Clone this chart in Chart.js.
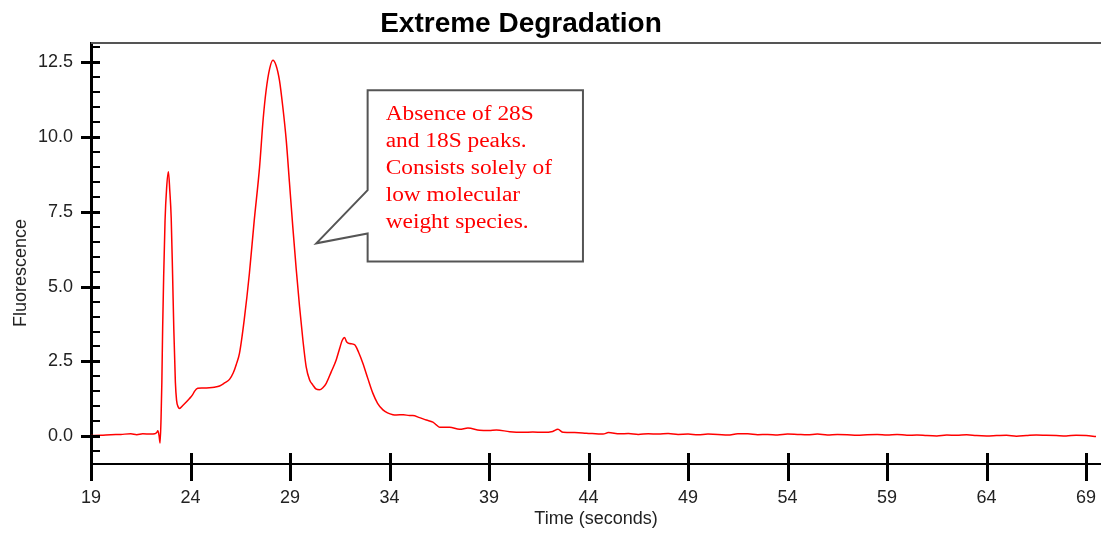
<!DOCTYPE html>
<html>
<head>
<meta charset="utf-8">
<title>Extreme Degradation</title>
<script src="https://cdn.jsdelivr.net/npm/chart.js@4.4.1/dist/chart.umd.min.js"></script>
<style>
body { margin: 0; background: #fff; }
#wrap { width: 1101px; height: 533px; }
</style>
</head>
<body>
<div id="wrap"><canvas id="trace" width="1101" height="533"></canvas></div>
<script>
// electropherogram trace
const timeSec = [
    19.0, 19.5, 20.0, 20.5, 21.0, 21.3, 21.6, 22.0, 22.2, 22.3, 22.36, 22.42, 22.47,
    22.52, 22.56, 22.6, 22.65, 22.72, 22.8, 22.89, 22.96, 23.03, 23.1, 23.16, 23.24,
    23.3, 23.38, 23.45, 23.6, 23.8, 23.95, 24.1, 24.2, 24.36, 24.6, 24.95, 25.2, 25.46,
    25.71, 25.96, 26.15, 26.3, 26.46, 26.7, 26.96, 27.2, 27.47, 27.65, 27.8, 27.98,
    28.14, 28.3, 28.47, 28.64, 28.81, 28.97, 29.14, 29.31, 29.48, 29.65, 29.81, 29.98,
    30.15, 30.3, 30.48, 30.65, 30.82, 31.07, 31.32, 31.5, 31.62, 31.74, 31.85, 31.99,
    32.24, 32.45, 32.66, 32.9, 33.16, 33.4, 33.67, 33.9, 34.17, 34.34, 34.7, 35.0,
    35.17, 35.51, 35.85, 36.18, 36.35, 36.52, 37.02, 37.52, 37.94, 38.53, 39.0, 39.37,
    40.04, 40.7, 41.2, 41.71, 42.2, 42.46, 42.72, 43.3, 43.89, 44.73, 45.0, 45.57,
    46.0, 46.5, 47.0, 47.5, 48.0, 48.5, 49.0, 49.5, 50.0, 50.5, 51.0, 51.5, 52.0, 52.5,
    53.0, 53.5, 54.0, 54.5, 55.0, 55.5, 56.0, 56.5, 57.0, 57.5, 58.0, 58.5, 59.0, 59.5,
    60.0, 60.5, 61.0, 61.5, 62.0, 62.5, 63.0, 63.5, 64.0, 64.5, 65.0, 65.5, 66.0, 66.5,
    67.0, 67.5, 68.0, 68.5, 69.0, 69.5
];
const fluorescence = [
    0.02, 0.03, 0.05, 0.06, 0.08, 0.05, 0.08, 0.07, 0.08, 0.12, 0.18, 0.02, -0.23,
    0.6, 1.8, 3.6, 5.3, 7.2, 8.3, 8.84, 8.2, 7.3, 5.4, 3.6, 1.8,
    1.2, 0.98, 0.93, 1.02, 1.15, 1.26, 1.38, 1.5, 1.6, 1.61, 1.62, 1.64, 1.68,
    1.78, 1.9, 2.12, 2.4, 2.77, 3.9, 5.45, 7.2, 9.0, 10.6, 11.57, 12.3,
    12.57, 12.4, 11.9, 11.0, 9.9, 8.5, 7.0, 5.6, 4.33, 3.2, 2.33, 1.89,
    1.71, 1.58, 1.55, 1.62, 1.77, 2.15, 2.55, 2.95, 3.2, 3.3, 3.15, 3.1,
    3.06, 2.8, 2.44, 1.95, 1.44, 1.1, 0.88, 0.78, 0.72, 0.71, 0.72, 0.69,
    0.69, 0.62, 0.54, 0.47, 0.38, 0.30, 0.30, 0.23, 0.27, 0.20, 0.19, 0.21,
    0.15, 0.13, 0.14, 0.13, 0.16, 0.23, 0.13, 0.12, 0.10, 0.07, 0.12, 0.08,
    0.09, 0.06, 0.08, 0.07, 0.09, 0.06, 0.07, 0.05, 0.07, 0.06, 0.04, 0.08, 0.08, 0.05,
    0.06, 0.04, 0.07, 0.06, 0.05, 0.07, 0.04, 0.06, 0.05, 0.03, 0.05, 0.06, 0.04, 0.06,
    0.03, 0.04, 0.02, 0.01, 0.04, 0.03, 0.05, 0.02, 0.01, 0.02, 0.03, 0.0, 0.02, 0.04,
    0.03, 0.02, 0.01, 0.03, 0.02, -0.01
];

const xTicks = [19, 24, 29, 34, 39, 44, 49, 54, 59, 64, 69];
const yTicks = [0, 2.5, 5, 7.5, 10, 12.5];
const yMinorTicks = [-0.5, 0.5, 1, 1.5, 2, 3, 3.5, 4, 4.5, 5.5, 6, 6.5, 7, 8, 8.5, 9, 9.5, 10.5, 11, 11.5, 12, 13];

const chartTitle = 'Extreme Degradation';
const xTitle = 'Time (seconds)';
const yTitle = 'Fluorescence';
const calloutLines = ['Absence of 28S', 'and 18S peaks.', 'Consists solely of', 'low molecular', 'weight species.'];

// callout placed in data units
const calloutBox = { x0: 32.9, x1: 43.72, yTop: 11.57, yBottom: 5.84 };
const calloutPointer = { x: 30.32, y: 6.45, yUpper: 8.23, yLower: 6.78 };

const sans = "'Liberation Sans', Arial, sans-serif";
const serif = "'Liberation Serif', 'Times New Roman', serif";

function createPoints() {
    let pts = [];
    for (let i = 0; i < timeSec.length; i++) {
        pts.push({ x: timeSec[i], y: fluorescence[i] });
    }
    return pts;
}

function line(ctx, x1, y1, x2, y2) {
    ctx.beginPath();
    ctx.moveTo(x1, y1);
    ctx.lineTo(x2, y2);
    ctx.stroke();
}

const frameAndTicks = {
    id: 'frameAndTicks',
    afterDraw(chart) {
        const ctx = chart.ctx;
        const area = chart.chartArea;
        const xs = chart.scales.x;
        const ys = chart.scales.y;
        ctx.save();
        // top frame line
        ctx.strokeStyle = '#555';
        ctx.lineWidth = 2;
        line(ctx, area.left, area.top, area.right, area.top);

        ctx.strokeStyle = '#000';
        ctx.lineWidth = 3;
        yTicks.forEach(v => {
            const py = Math.round(ys.getPixelForValue(v)) + 0.5;
            line(ctx, area.left - 10, py, area.left + 9, py);
        });
        ctx.lineWidth = 2;
        yMinorTicks.forEach(v => {
            const py = Math.round(ys.getPixelForValue(v));
            line(ctx, area.left, py, area.left + 9, py);
        });
        ctx.lineWidth = 3;
        xTicks.forEach(v => {
            const px = Math.round(xs.getPixelForValue(v)) + 0.5;
            line(ctx, px, area.bottom - 11, px, area.bottom + 17);
        });

        // chart title
        ctx.fillStyle = '#000';
        ctx.font = 'bold 28px ' + sans;
        ctx.textAlign = 'center';
        ctx.textBaseline = 'alphabetic';
        ctx.fillText(chartTitle, 521, 32);

        // y axis title
        ctx.save();
        ctx.translate(26, 273);
        ctx.rotate(-Math.PI / 2);
        ctx.font = '18px ' + sans;
        ctx.fillStyle = '#222';
        ctx.textBaseline = 'alphabetic';
        ctx.fillText(yTitle, 0, 0);
        ctx.restore();

        // callout
        const bx0 = xs.getPixelForValue(calloutBox.x0);
        const bx1 = xs.getPixelForValue(calloutBox.x1);
        const by0 = ys.getPixelForValue(calloutBox.yTop);
        const by1 = ys.getPixelForValue(calloutBox.yBottom);
        const tipX = xs.getPixelForValue(calloutPointer.x);
        const tipY = ys.getPixelForValue(calloutPointer.y);
        ctx.beginPath();
        ctx.moveTo(bx0, by0);
        ctx.lineTo(bx1, by0);
        ctx.lineTo(bx1, by1);
        ctx.lineTo(bx0, by1);
        ctx.lineTo(bx0, ys.getPixelForValue(calloutPointer.yLower));
        ctx.lineTo(tipX, tipY);
        ctx.lineTo(bx0, ys.getPixelForValue(calloutPointer.yUpper));
        ctx.closePath();
        ctx.fillStyle = '#fff';
        ctx.fill();
        ctx.strokeStyle = '#555';
        ctx.lineWidth = 2;
        ctx.stroke();

        ctx.fillStyle = '#ff0000';
        ctx.font = '20px ' + serif;
        ctx.textAlign = 'left';
        for (let i = 0; i < calloutLines.length; i++) {
            ctx.save();
            ctx.translate(bx0 + 18, by0 + 30 + i * 27);
            ctx.scale(1.17, 1);
            ctx.fillText(calloutLines[i], 0, 0);
            ctx.restore();
        }
        ctx.restore();
    }
};

new Chart(document.getElementById('trace'), {
    type: 'line',
    data: {
        datasets: [{
            label: yTitle,
            data: createPoints(),
            borderColor: '#ff0000',
            borderWidth: 1.5,
            pointRadius: 0,
            fill: false,
            cubicInterpolationMode: 'monotone'
        }]
    },
    options: {
        responsive: false,
        animation: false,
        layout: { padding: { top: 43, left: 0, right: 0, bottom: 0 } },
        plugins: {
            legend: { display: false },
            title: { display: false },
            tooltip: { enabled: false }
        },
        scales: {
            x: {
                type: 'linear',
                min: 19,
                max: 69.75,
                afterFit(scale) {
                    scale.height = 69;
                    scale.paddingLeft = 0;
                    scale.paddingRight = 0;
                },
                afterBuildTicks(scale) { scale.ticks = xTicks.map(v => ({ value: v })); },
                grid: { display: false, drawTicks: false },
                border: { display: true, color: '#000', width: 2 },
                ticks: {
                    padding: 23,
                    color: '#222',
                    maxRotation: 0,
                    autoSkip: false,
                    font: { family: sans, size: 18 },
                    callback: v => String(v)
                },
                title: {
                    display: true,
                    text: xTitle,
                    color: '#222',
                    font: { family: sans, size: 18 },
                    padding: { top: 0, bottom: 3 }
                }
            },
            y: {
                min: -0.93,
                max: 13.15,
                afterFit(scale) {
                    scale.width = 91;
                    scale.paddingTop = 0;
                    scale.paddingBottom = 0;
                },
                afterBuildTicks(scale) { scale.ticks = yTicks.map(v => ({ value: v })); },
                grid: { display: false, drawTicks: false },
                border: { display: true, color: '#000', width: 3 },
                ticks: {
                    padding: 18,
                    color: '#222',
                    font: { family: sans, size: 18 },
                    callback: v => Number(v).toFixed(1)
                }
            }
        }
    },
    plugins: [frameAndTicks]
});
</script>
</body>
</html>
